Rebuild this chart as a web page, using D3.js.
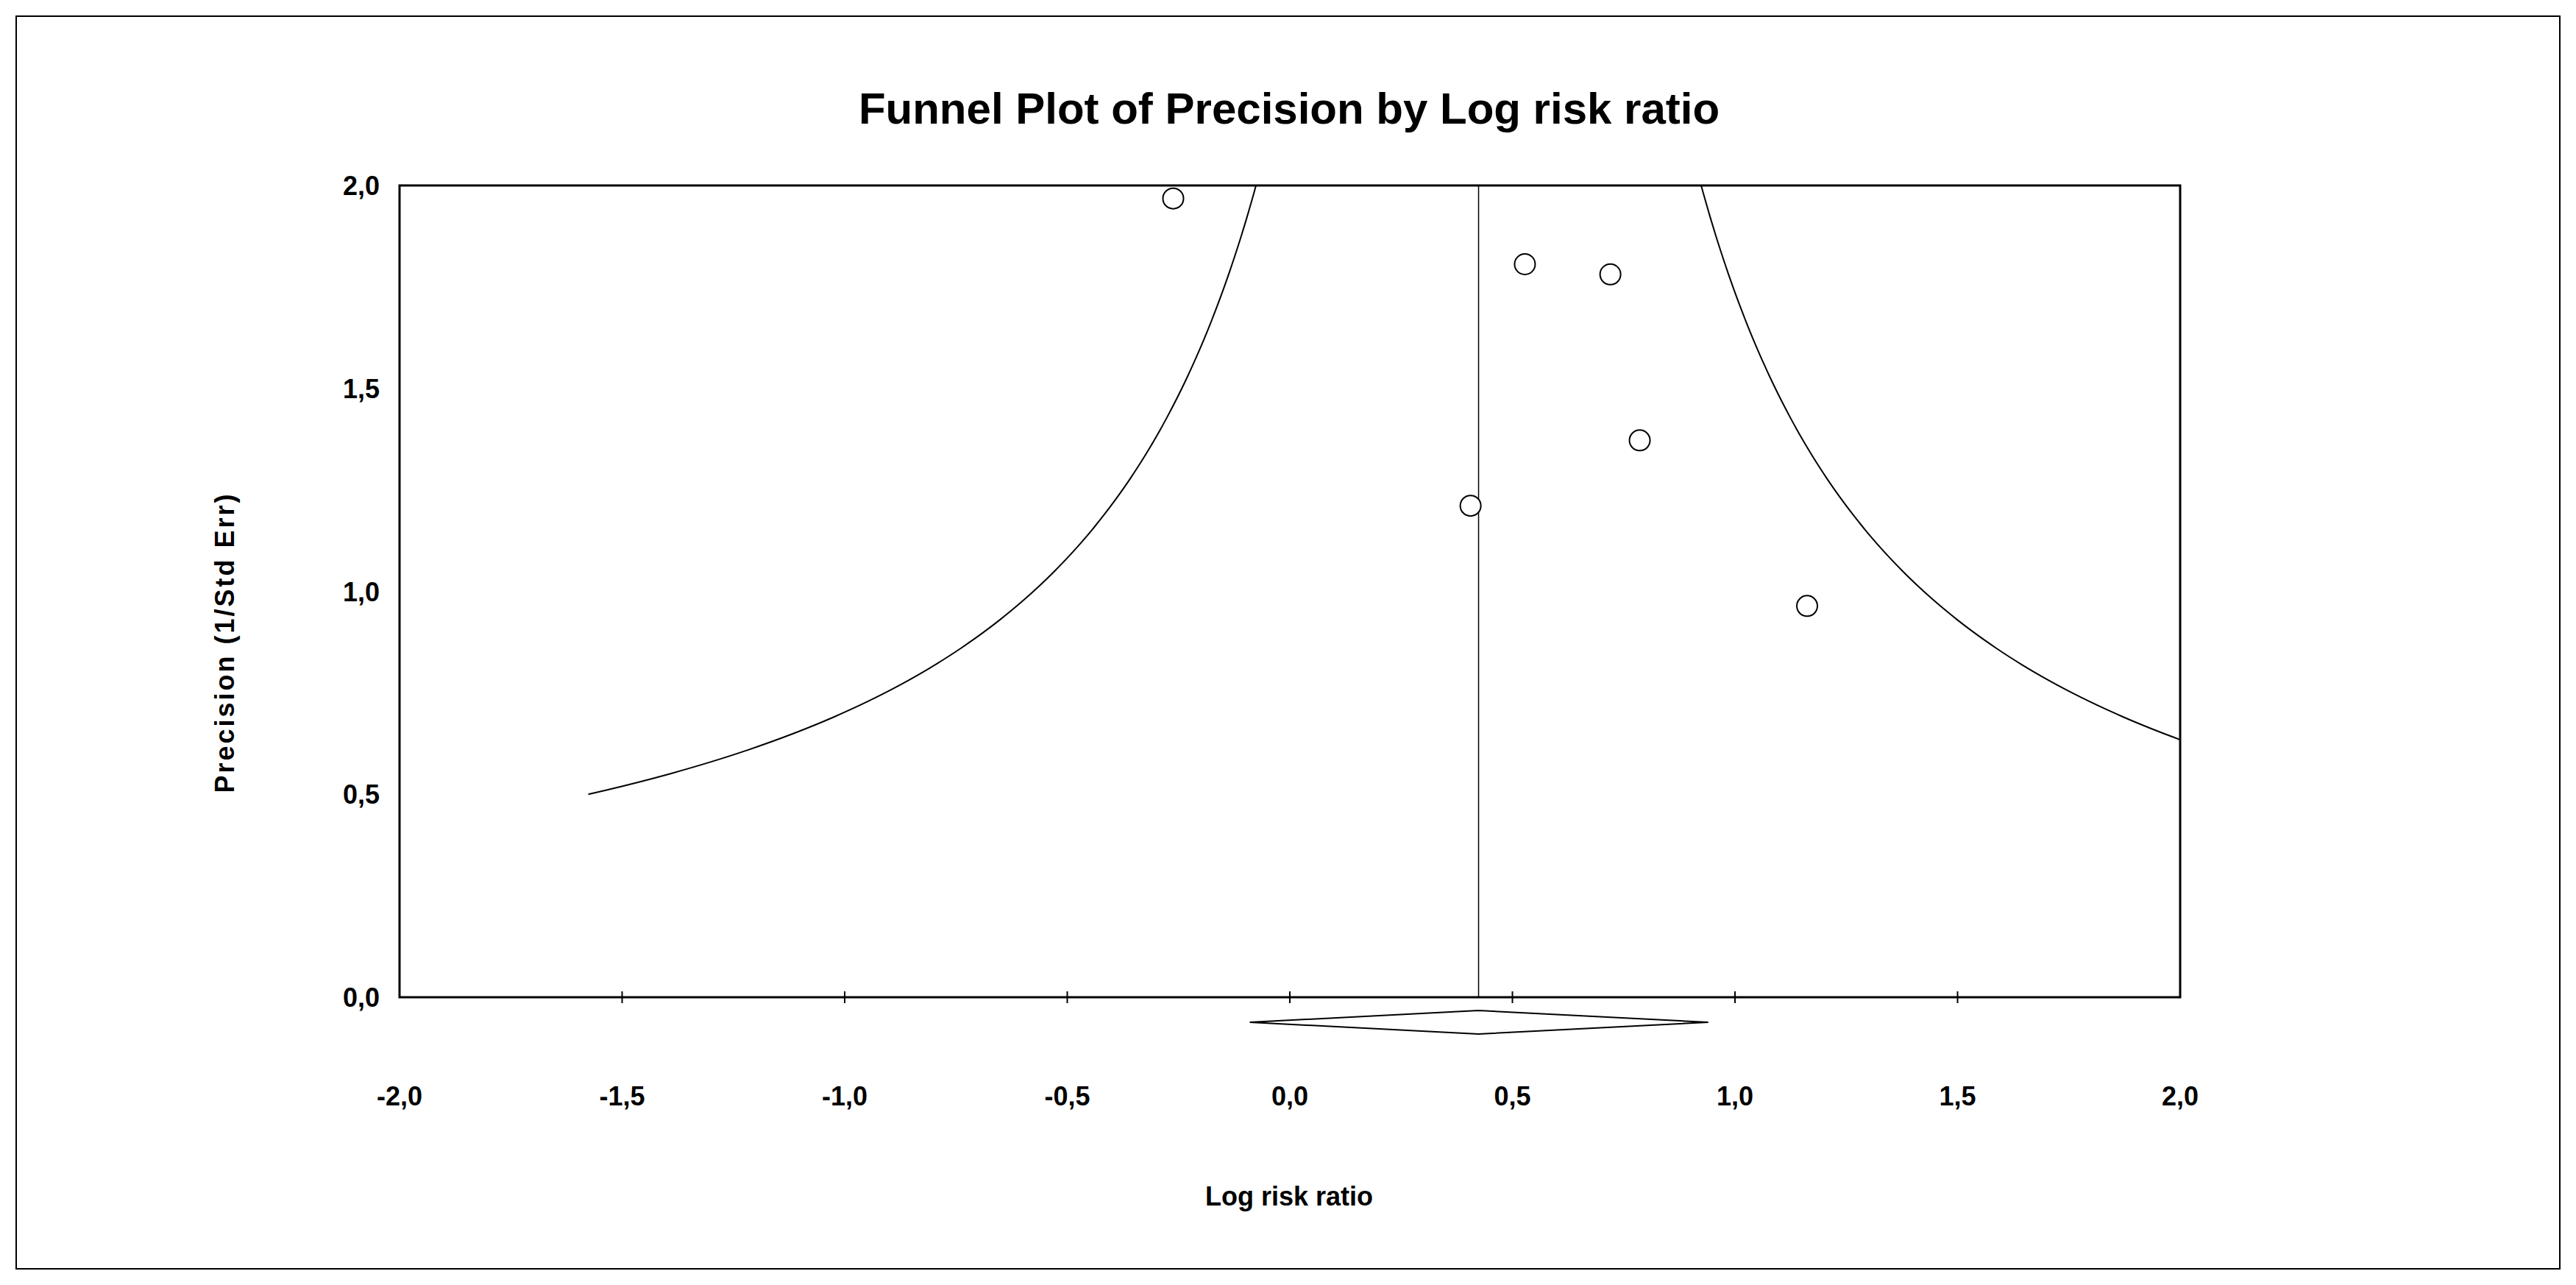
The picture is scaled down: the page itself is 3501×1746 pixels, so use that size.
<!DOCTYPE html>
<html><head><meta charset="utf-8">
<script src="https://cdn.jsdelivr.net/npm/d3@7"></script>
<style>body{margin:0;background:#fff}</style>
</head><body><div id="chart"></div>
<script>
var W = 3501, H = 1746;
var logRR = [-0.262, 0.528, 0.720, 0.786, 0.406, 1.162];
var precision = [1.968, 1.806, 1.781, 1.372, 1.211, 0.964];
var pooled = 0.424, ciLow = -0.09, ciHigh = 0.94;
var xTicks = [-2.0, -1.5, -1.0, -0.5, 0.0, 0.5, 1.0, 1.5, 2.0];
var yTicks = [0.0, 0.5, 1.0, 1.5, 2.0];
var funnelLevels = d3.range(0.5, 2.0001, 0.01);

var svg = d3.select("#chart").append("svg").attr("width", W).attr("height", H);
var L = 543, R = 2963, T = 252, B = 1355;
var x = d3.scaleLinear().domain([-2, 2]).range([L, R]);
var y = d3.scaleLinear().domain([0, 2]).range([B, T]);
var fmt = function(d){ return d3.format(".1f")(d).replace(".", ",").replace("\u2212", "-"); };
var font = "Liberation Sans, Arial, sans-serif";

svg.append("rect").attr("x", 22).attr("y", 22).attr("width", 3457).attr("height", 1702)
  .attr("fill", "none").attr("stroke", "#000").attr("stroke-width", 2);

svg.append("text").attr("x", 1752).attr("y", 168).attr("text-anchor", "middle")
  .attr("font-family", font).attr("font-weight", "bold").attr("font-size", 60)
  .text("Funnel Plot of Precision by Log risk ratio");

var g = svg.append("g");
g.append("rect").attr("x", L).attr("y", T).attr("width", R - L).attr("height", B - T)
  .attr("fill", "none").attr("stroke", "#000").attr("stroke-width", 3);

// x ticks crossing the axis
g.selectAll(".xt").data(xTicks.slice(1, -1)).enter().append("line")
  .attr("x1", d => x(d)).attr("x2", d => x(d)).attr("y1", B - 8).attr("y2", B + 8)
  .attr("stroke", "#000").attr("stroke-width", 2);
g.selectAll(".xl").data(xTicks).enter().append("text")
  .attr("x", d => x(d)).attr("y", 1502).attr("text-anchor", "middle")
  .attr("font-family", font).attr("font-weight", "bold").attr("font-size", 36).text(fmt);
g.selectAll(".yl").data(yTicks).enter().append("text")
  .attr("x", 516).attr("y", d => y(d) + 13).attr("text-anchor", "end")
  .attr("font-family", font).attr("font-weight", "bold").attr("font-size", 36).text(fmt);

svg.append("text").attr("x", 1752).attr("y", 1638).attr("text-anchor", "middle")
  .attr("font-family", font).attr("font-weight", "bold").attr("font-size", 36).text("Log risk ratio");
svg.append("text").attr("transform", "translate(318,873) rotate(-90)").attr("text-anchor", "middle")
  .attr("font-family", font).attr("font-weight", "bold").attr("font-size", 36).attr("letter-spacing", 3)
  .text("Precision (1/Std Err)");

// pooled estimate line
g.append("line").attr("x1", x(pooled)).attr("x2", x(pooled)).attr("y1", T).attr("y2", B)
  .attr("stroke", "#000").attr("stroke-width", 1.5);

// funnel boundaries
var line = d3.line().x(d => x(d[0])).y(d => y(d[1]));
var left = funnelLevels.map(p => [pooled - 1 / p, p]);
var right = funnelLevels.map(p => [pooled + 1 / p, p]).filter(d => d[0] <= 2);
g.append("path").attr("d", line(left)).attr("fill", "none").attr("stroke", "#000").attr("stroke-width", 2);
g.append("path").attr("d", line([[2, 1 / (2 - pooled)]].concat(right))).attr("fill", "none").attr("stroke", "#000").attr("stroke-width", 2);

// studies
g.selectAll(".pt").data(logRR).enter().append("circle")
  .attr("cx", d => x(d)).attr("cy", (d, i) => y(precision[i])).attr("r", 14)
  .attr("fill", "#fff").attr("stroke", "#000").attr("stroke-width", 2);

// diamond
var dy = 1389;
g.append("path").attr("d", "M" + x(ciLow) + "," + dy + "L" + x(pooled) + "," + (dy - 16) +
  "L" + x(ciHigh) + "," + dy + "L" + x(pooled) + "," + (dy + 16) + "Z")
  .attr("fill", "#fff").attr("stroke", "#000").attr("stroke-width", 2);
</script></body></html>
